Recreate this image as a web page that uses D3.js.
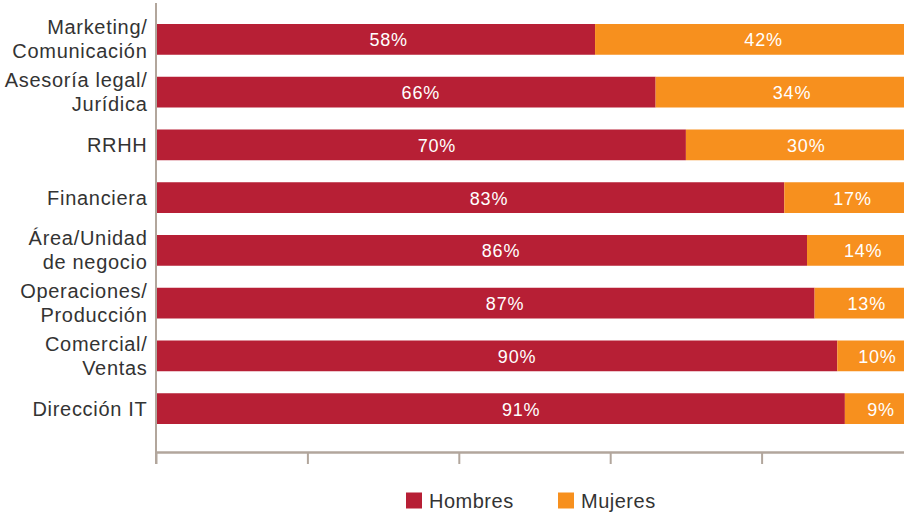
<!DOCTYPE html>
<html>
<head>
<meta charset="utf-8">
<script src="https://cdn.jsdelivr.net/npm/d3@7/dist/d3.min.js"></script>
<style>
  html, body { margin: 0; padding: 0; background: #fff; }
  svg { display: block; font-family: "Liberation Sans", Arial, Helvetica, sans-serif; }
</style>
</head>
<body>
<svg id="chart" width="904" height="514"></svg>
<script>
// ---- data ----
const categories = [
  ["Marketing/", "Comunicación"],
  ["Asesoría legal/", "Jurídica"],
  ["RRHH"],
  ["Financiera"],
  ["Área/Unidad", "de negocio"],
  ["Operaciones/", "Producción"],
  ["Comercial/", "Ventas"],
  ["Dirección IT"]
];
const hombres = [58, 66, 70, 83, 86, 87, 90, 91];
const mujeres = [42, 34, 30, 17, 14, 13, 10, 9];
const seriesNames = ["Hombres", "Mujeres"];
const tickValues = [0, 20, 40, 60, 80, 100];

// ---- styles ----
const colors = ["#B71F35", "#F7901E"];
const axisColor = "#b2a69c";
const textColor = "#333333";

const svg = d3.select("#chart");
const keys = categories.map(c => c.join(" "));

const x = d3.scaleLinear().domain([0, 100]).range([156, 913]);
const y = d3.scaleBand().domain(keys).range([13, 435]).paddingInner(0.417).paddingOuter(0.2085);

const rows = keys.map((k, i) => ({ key: k, lines: categories[i], vals: [hombres[i], mujeres[i]] }));
const stacked = d3.stack().keys([0, 1]).value((d, k) => d.vals[k])(rows);

// bars
const layers = svg.append("g").selectAll("g").data(stacked).join("g")
  .attr("fill", (d, i) => colors[i]);
layers.selectAll("rect").data(d => d).join("rect")
  .attr("x", d => x(d[0]))
  .attr("y", d => y(d.data.key))
  .attr("width", d => x(d[1]) - x(d[0]))
  .attr("height", y.bandwidth());

// value labels
layers.selectAll("text").data(d => d.map(v => ({ v, idx: d.key }))).join("text")
  .attr("x", d => x(d.v[0]) + (x(d.v[1]) - x(d.v[0])) * 0.53)
  .attr("y", d => y(d.v.data.key) + y.bandwidth() / 2 + 7)
  .attr("text-anchor", "middle")
  .attr("fill", "#fff")
  .attr("font-size", 18)
  .attr("letter-spacing", 0.8)
  .text(d => (d.v[1] - d.v[0]) + "%");

// category labels
const lab = svg.append("g").selectAll("text").data(rows).join("text")
  .attr("text-anchor", "end")
  .attr("fill", textColor)
  .attr("font-size", 20)
  .attr("letter-spacing", 0.7)
  .attr("transform", d => `translate(147.5,${y(d.key) + y.bandwidth() / 2})`);
lab.selectAll("tspan").data(d => d.lines.map((l, i) => ({ l, i, n: d.lines.length }))).join("tspan")
  .attr("x", 0)
  .attr("y", d => d.n === 1 ? 7.5 : (d.i === 0 ? -5 : 19))
  .text(d => d.l);

// x axis (no labels)
const xAxis = svg.append("g")
  .attr("transform", "translate(0,452)")
  .call(d3.axisBottom(x).tickValues(tickValues).tickSize(12).tickSizeOuter(0).tickFormat(""));
xAxis.selectAll("path, line").attr("stroke", axisColor).attr("stroke-width", 2);
xAxis.select(".domain").attr("stroke-width", 2.5);

// vertical axis line
svg.append("line")
  .attr("x1", x(0)).attr("x2", x(0))
  .attr("y1", 3).attr("y2", 464)
  .attr("stroke", axisColor).attr("stroke-width", 2);

// legend
const leg = svg.append("g").selectAll("g").data(seriesNames).join("g")
  .attr("transform", (d, i) => `translate(${406 + i * 152},492.5)`);
leg.append("rect").attr("width", 16).attr("height", 16).attr("fill", (d, i) => colors[i]);
leg.append("text").attr("x", 23).attr("y", 15.8)
  .attr("fill", textColor).attr("font-size", 20).attr("letter-spacing", 0.5)
  .text(d => d);
</script>
</body>
</html>
